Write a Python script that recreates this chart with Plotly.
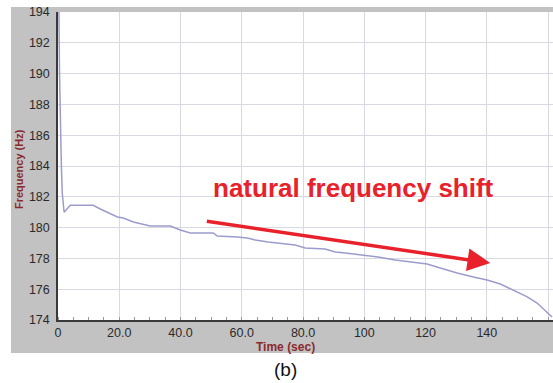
import plotly.graph_objects as go

# Data
time_s = [0, 0.3, 0.5, 0.8, 1.1, 1.4, 2.0, 4.0, 11.5, 13.8, 19.4, 21.3, 24.6, 30.1, 36.7,
          39.9, 43.2, 50.7, 52.0, 58.5, 61.8, 64.4, 68.6, 77.4, 80.7, 87.2, 90.5, 93.8,
          99.3, 104.5, 110.1, 116.0, 120.5, 124.8, 130.3, 135.6, 140.1, 144.4, 148.6,
          153.2, 156.4, 159.7, 161.3]
freq_hz = [194.5, 194.0, 190.0, 186.0, 184.0, 182.2, 181.0, 181.45, 181.45, 181.21, 180.69,
           180.62, 180.36, 180.10, 180.10, 179.84, 179.65, 179.65, 179.45, 179.39, 179.32,
           179.19, 179.06, 178.87, 178.68, 178.61, 178.42, 178.35, 178.22, 178.09, 177.90,
           177.77, 177.64, 177.38, 177.05, 176.79, 176.60, 176.34, 175.95, 175.50, 175.10,
           174.52, 174.19]

x_tickvals = [0, 20, 40, 60, 80, 100, 120, 140, 160]
x_ticktext = ["0", "20.0", "40.0", "60.0", "80.0", "100", "120", "140", "160"]
y_tickvals = [174, 176, 178, 180, 182, 184, 186, 188, 190, 192, 194]
y_ticktext = [str(v) for v in y_tickvals]

arrow_start = (48.1, 180.43)
arrow_end = (141.1, 177.70)

FONT = "Liberation Sans, Arial, sans-serif"
DARKRED = "#8a2a2e"
RED = "#e8212b"
GRAY = "#c2c2c2"

fig = go.Figure()
fig.add_trace(go.Scatter(x=time_s, y=freq_hz, mode="lines",
                         line=dict(color="#9c9ccc", width=1.5), hoverinfo="skip",
                         showlegend=False, cliponaxis=True))

white_rects = [
    dict(x0=-0.2, x1=1.1, y0=-0.3, y1=-0.107),   # bottom white strip
    dict(x0=-0.2, x1=-0.095, y0=-0.3, y1=1.1),   # left white strip
    dict(x0=-0.2, x1=1.1, y0=1.016, y1=1.1),     # top white strip
]
shapes = [dict(type="rect", xref="paper", yref="paper", fillcolor="white",
               line=dict(width=0), layer="below", **r) for r in white_rects]

fig.update_layout(
    width=553, height=383,
    margin=dict(l=58, r=0, t=12, b=63),
    paper_bgcolor=GRAY, plot_bgcolor="white",
    font=dict(family=FONT, size=12.5, color="#2a2a2a"),
    xaxis=dict(range=[0, 161.6], tickvals=x_tickvals, ticktext=x_ticktext,
               showgrid=True, gridcolor="#d9d9e2", gridwidth=1, zeroline=False,
               showline=True, linecolor="#3a3a3a", linewidth=1.5,
               ticks="", ticklabelstandoff=0,
               minor=dict(dtick=5, ticks="inside", ticklen=3, tickcolor="#9a9a9a",
                          showgrid=False)),
    yaxis=dict(range=[174, 194], tickvals=y_tickvals, ticktext=y_ticktext,
               showgrid=True, gridcolor="#d9d9e2", gridwidth=1, zeroline=False,
               showline=True, linecolor="#3a3a3a", linewidth=1.5,
               ticks="", ticklabelstandoff=4),
    shapes=shapes,
    annotations=[
        dict(text="<b>Frequency (Hz)</b>", xref="paper", yref="paper", x=-0.0788, y=0.49,
             xanchor="center", yanchor="middle",
             textangle=-90, showarrow=False, font=dict(size=11, color=DARKRED, family=FONT)),
        dict(text="<b>Time (sec)</b>", xref="paper", yref="paper", x=0.4586, y=-0.088,
             xanchor="center", yanchor="middle",
             showarrow=False, font=dict(size=12, color=DARKRED, family=FONT)),
        dict(text="(b)", xref="paper", yref="paper", x=0.4586, y=-0.162,
             xanchor="center", yanchor="middle",
             showarrow=False, font=dict(size=19, color="#111111", family=FONT)),
        dict(text="<b>natural frequency shift</b>", xref="x", yref="y", x=96.5, y=182.6,
             xanchor="center", yanchor="middle",
             showarrow=False, font=dict(size=26, color=RED, family=FONT)),
        dict(text="", xref="x", yref="y", x=arrow_end[0], y=arrow_end[1],
             axref="x", ayref="y", ax=arrow_start[0], ay=arrow_start[1],
             showarrow=True, arrowhead=2, arrowsize=1.3, arrowwidth=3.5,
             arrowcolor=RED, standoff=0),
    ],
)

fig.write_html("out.html")
